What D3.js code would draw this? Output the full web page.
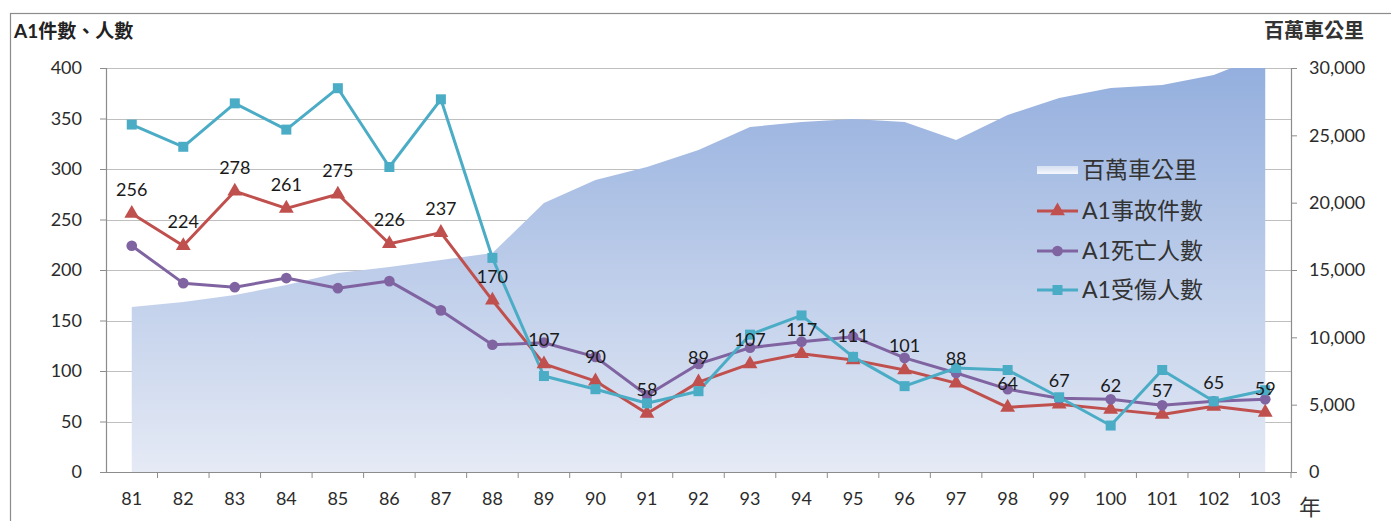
<!DOCTYPE html>
<html><head><meta charset="utf-8">
<script src="https://cdn.jsdelivr.net/npm/d3@7"></script>
<style>
html,body{margin:0;padding:0;background:#fff;}
svg{display:block;font-family:Lato,"Noto Sans CJK TC",sans-serif;}
</style></head>
<body>
<svg id="chart" width="1391" height="521"></svg>
<script>
const years = ["81","82","83","84","85","86","87","88","89","90","91","92","93","94","95","96","97","98","99","100","101","102","103"];
const vehicleKm = [12250,12620,13140,13890,14780,15220,15740,16260,19980,21680,22650,23910,25620,25990,26210,25990,24650,26510,27770,28510,28740,29480,31000];
const accidents = [256,224,278,261,275,226,237,170,107,90,58,89,107,117,111,101,88,64,67,62,57,65,59];
const deaths = [224,187,183,192,182,189,160,126,128,114,76,107,123,129,134,113,98,82,73,72,66,70,72];
const injuries = [344,322,365,339,380,302,369,212,95,82,68,80,136,155,114,85,103,101,74,46,101,70,81];
const leftTicks = [0,50,100,150,200,250,300,350,400];
const rightTicks = [0,5000,10000,15000,20000,25000,30000];
const legendNames = ["百萬車公里","A1事故件數","A1死亡人數","A1受傷人數"];
const leftTitle = "A1件數、人數";
const rightTitle = "百萬車公里";
const xTitle = "年";

const svg = d3.select("#chart");
const L = 106, R = 1291, T = 68, B = 472;

const x = d3.scaleBand().domain(years).range([L, R]).padding(0);
const cx = d => x(d) + x.bandwidth()/2;
const yL = d3.scaleLinear().domain([0,400]).range([B, T]);
const yR = d3.scaleLinear().domain([0,30000]).range([B, T]);

// outer border
svg.append("rect").attr("x",10.5).attr("y",13.5).attr("width",1400).attr("height",540)
  .attr("fill","#fff").attr("stroke","#8c8c8c").attr("stroke-width",1.2);

const defs = svg.append("defs");
const grad = defs.append("linearGradient").attr("id","areaGrad")
  .attr("gradientUnits","userSpaceOnUse").attr("x1",0).attr("y1",T).attr("x2",0).attr("y2",B);
grad.append("stop").attr("offset","0%").attr("stop-color","#94afde");
grad.append("stop").attr("offset","100%").attr("stop-color","#e5eaf5");
const lgrad = defs.append("linearGradient").attr("id","legGrad").attr("x1",0).attr("y1",0).attr("x2",0).attr("y2",1);
lgrad.append("stop").attr("offset","0%").attr("stop-color","#d6e0f1");
lgrad.append("stop").attr("offset","100%").attr("stop-color","#f4f7fc");
defs.append("clipPath").attr("id","plotClip").append("rect")
  .attr("x",L).attr("y",T).attr("width",R-L).attr("height",B-T);

// gridlines
svg.append("g").selectAll("line").data(leftTicks.filter(d=>d>0)).join("line")
  .attr("x1",L).attr("x2",R).attr("y1",d=>Math.round(yL(d))+0.5).attr("y2",d=>Math.round(yL(d))+0.5)
  .attr("stroke","#bfbfbf").attr("stroke-width",1);

// area
const area = d3.area().x((d,i)=>cx(years[i])).y0(B).y1(d=>yR(d));
svg.append("path").datum(vehicleKm).attr("d",area).attr("fill","url(#areaGrad)")
  .attr("clip-path","url(#plotClip)");

// axes
const axisColor = "#8c8c8c";
const gL = svg.append("g").attr("transform",`translate(${L},0)`)
  .call(d3.axisLeft(yL).tickValues(leftTicks).tickSize(6).tickPadding(18).tickFormat(d3.format("d")));
const gR = svg.append("g").attr("transform",`translate(${R},0)`)
  .call(d3.axisRight(yR).tickValues(rightTicks).tickSize(6).tickPadding(12).tickFormat(d3.format(",")));
const gX = svg.append("g").attr("transform",`translate(0,${B})`)
  .call(d3.axisBottom(x).tickSize(0).tickPadding(20));
svg.append("g").selectAll("line").data(years).join("line")
  .attr("x1",d=>x(d)+x.bandwidth()).attr("x2",d=>x(d)+x.bandwidth())
  .attr("y1",B).attr("y2",B+6).attr("stroke",axisColor);
[gL,gR,gX].forEach(g=>{
  g.selectAll(".domain").attr("stroke",axisColor).attr("stroke-width",1.2);
  g.selectAll(".tick line").attr("stroke",axisColor);
  g.selectAll("text").attr("font-size",18).attr("fill","#2b2b2b").attr("font-family",'Lato,"Noto Sans CJK TC",sans-serif');
});
gL.select(".domain").attr("d",`M0.5,${T}V${B}`);
gR.select(".domain").attr("d",`M0.5,${T}V${B}`);
gX.select(".domain").attr("d",`M${L-6},0.5H${R}`);

// titles
svg.append("text").attr("x",14).attr("y",38).attr("font-size",19).attr("font-weight","bold")
  .attr("fill","#222").text(leftTitle);
svg.append("text").attr("x",1364).attr("y",38).attr("text-anchor","end").attr("font-size",20)
  .attr("font-weight","bold").attr("fill","#333").text(rightTitle);
svg.append("text").attr("x",1310).attr("y",515).attr("text-anchor","middle").attr("font-size",22)
  .attr("fill","#333").text(xTitle);

// series
const series = [
  {vals:accidents, color:"#c0504d", shape:d3.symbolTriangle, size:95},
  {vals:deaths, color:"#8064a2", shape:d3.symbolCircle, size:90},
  {vals:injuries, color:"#4bacc6", shape:d3.symbolSquare, size:100}
];
const line = d3.line().x((d,i)=>cx(years[i])).y(d=>yL(d));
series.forEach(s=>{
  svg.append("path").datum(s.vals).attr("d",line).attr("fill","none")
    .attr("stroke",s.color).attr("stroke-width",3).attr("stroke-linejoin","round");
});
series.forEach(s=>{
  svg.append("g").selectAll("path").data(s.vals).join("path")
    .attr("d",d3.symbol().type(s.shape).size(s.size))
    .attr("transform",(d,i)=>`translate(${cx(years[i])},${yL(d)})`)
    .attr("fill",s.color);
});

// data labels for accidents
svg.append("g").selectAll("text").data(accidents).join("text")
  .attr("x",(d,i)=>cx(years[i])).attr("y",d=>yL(d)-24).attr("dy","0.35em")
  .attr("text-anchor","middle").attr("font-size",18).attr("fill","#1a1a1a").text(d=>d);

// legend
const lg = svg.append("g").attr("transform","translate(1037,0)");
const rows = [170,211,251,290];
lg.append("rect").attr("x",0).attr("y",rows[0]-4).attr("width",41).attr("height",8).attr("fill","url(#legGrad)");
series.forEach((s,i)=>{
  const yy = rows[i+1];
  lg.append("line").attr("x1",0).attr("x2",41).attr("y1",yy).attr("y2",yy)
    .attr("stroke",s.color).attr("stroke-width",3);
  lg.append("path").attr("d",d3.symbol().type(s.shape).size(s.size))
    .attr("transform",`translate(20.5,${yy})`).attr("fill",s.color);
});
lg.selectAll("text.leg").data(legendNames).join("text").attr("class","leg")
  .attr("x",45).attr("y",(d,i)=>rows[i]).attr("dy","0.36em")
  .attr("font-size",23).attr("fill","#333").text(d=>d);
</script>
</body></html>
